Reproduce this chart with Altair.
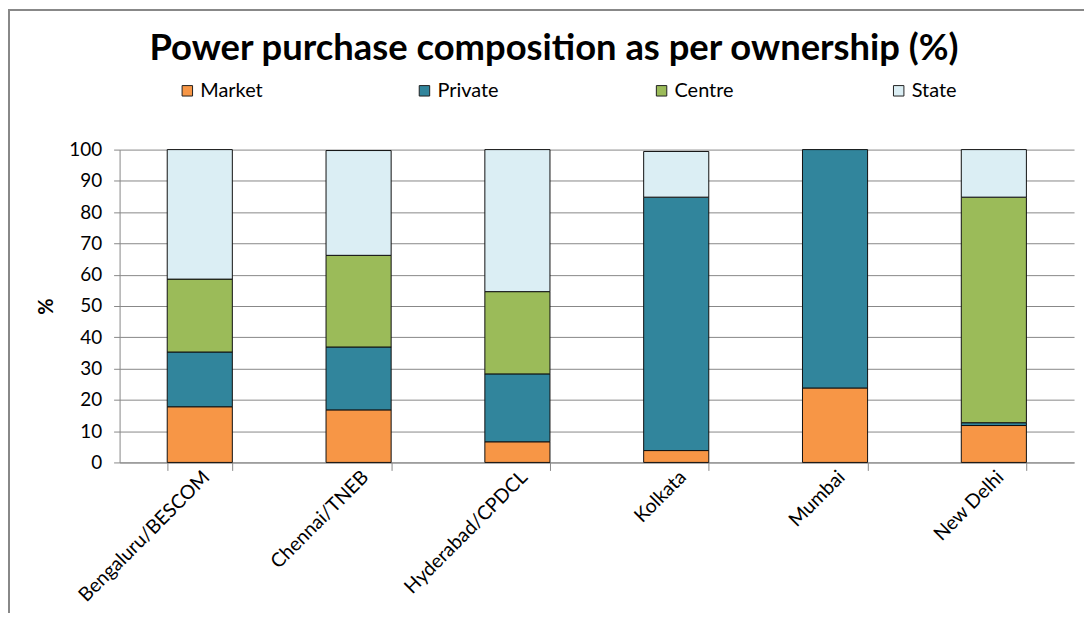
import altair as alt
import pandas as pd

cities = ["Bengaluru/BESCOM", "Chennai/TNEB", "Hyderabad/CPDCL", "Kolkata", "Mumbai", "New Delhi"]
series = ["Market", "Private", "Centre", "State"]
market = [17.8, 16.8, 6.6, 3.8, 23.8, 11.8]
private = [17.5, 20.1, 21.7, 81.0, 76.2, 0.9]
centre = [23.3, 29.3, 26.3, 0.0, 0.0, 72.1]
state = [41.4, 33.5, 45.4, 14.6, 0.0, 15.2]
colors = ["#F79646", "#31859C", "#9BBB59", "#DBEEF4"]
y_ticks = list(range(0, 101, 10))

rows = []
for i, c in enumerate(cities):
    for k, (s, vals) in enumerate(zip(series, [market, private, centre, state])):
        if vals[i] > 0:
            rows.append({"city": c, "series": s, "value": vals[i], "order": k})
df = pd.DataFrame(rows)

FONT = "Lato"
W, H = 958, 314

bars = alt.Chart(df).mark_bar(stroke="#111", strokeWidth=1).encode(
    x=alt.X("city:N", sort=cities, title=None,
            scale=alt.Scale(paddingInner=0.59, paddingOuter=0.3),
            axis=alt.Axis(labelAngle=-45, labelFontSize=19.5, labelColor="#000",
                          labelFont=FONT, tickBand="extent", tickSize=8,
                          tickColor="#888", domainColor="#888", labelPadding=-3,
                          labelLimit=300)),
    y=alt.Y("value:Q", stack="zero", title="%",
            scale=alt.Scale(domain=[0, 100], nice=False),
            axis=alt.Axis(values=y_ticks, labelFontSize=19, labelColor="#000",
                          labelFont=FONT, tickSize=6, tickColor="#888",
                          domainColor="#888", gridColor="#888", gridWidth=1,
                          labelPadding=12, titleFontSize=20, titleFont=FONT,
                          titleFontWeight="bold", titleColor="#000",
                          titlePadding=12)),
    color=alt.Color("series:N", scale=alt.Scale(domain=series, range=colors),
                    legend=alt.Legend(title=None, orient="none", legendX=58, legendY=-69,
                                      direction="horizontal", columns=4, gridAlign="all",
                                      columnPadding=152, symbolType="square",
                                      symbolSize=110, symbolStrokeColor="#222",
                                      symbolStrokeWidth=1, labelFontSize=20,
                                      labelFont=FONT, labelColor="#000", labelOffset=3)),
    order=alt.Order("order:Q"),
)

frame = alt.Chart(pd.DataFrame({"a": [0]})).mark_rect(
    fill="transparent", stroke="#888", strokeWidth=2
).encode(
    x=alt.value(-111), x2=alt.value(1100), y=alt.value(-140), y2=alt.value(700)
)

chart = alt.layer(frame, bars).properties(
    width=W, height=H,
    title=alt.TitleParams("Power purchase composition as per ownership (%)",
                          font=FONT, fontSize=36.5, fontWeight="bold", color="#000",
                          anchor="middle", dx=-43, dy=71, offset=12),
    autosize=alt.AutoSizeParams(type="none"),
    padding={"left": 112, "top": 141, "right": 10, "bottom": 150},
).configure_view(strokeWidth=0)

chart.save("out.html", embed_options={"renderer": "svg", "actions": False})
